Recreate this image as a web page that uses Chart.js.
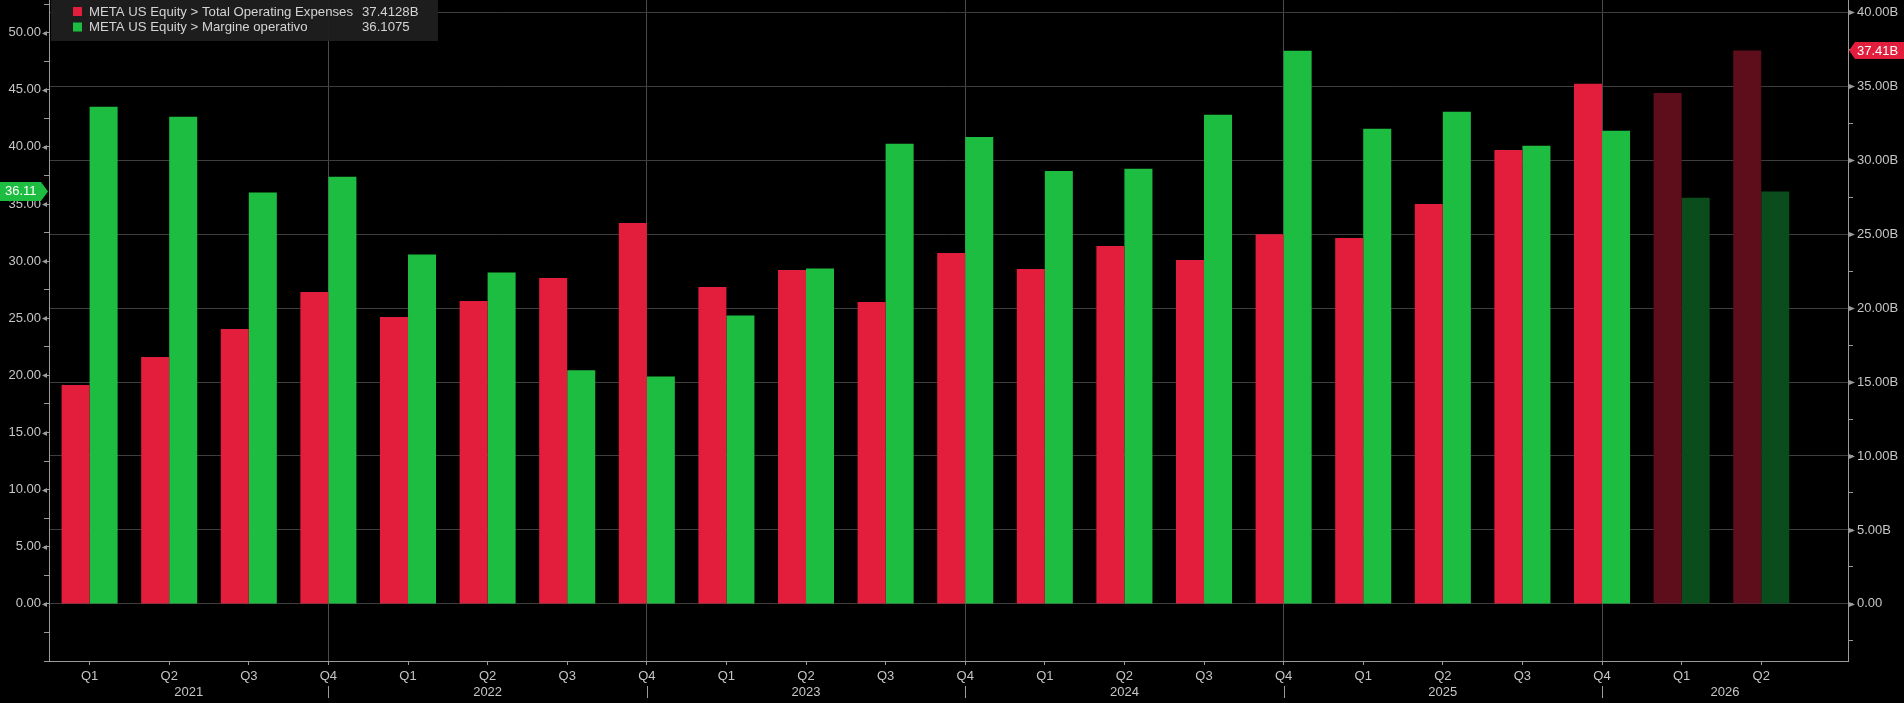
<!DOCTYPE html>
<html>
<head>
<meta charset="utf-8">
<title>META opex vs operating margin</title>
<script src="https://cdn.jsdelivr.net/npm/chart.js@4.4.1/dist/chart.umd.min.js"></script>
<style>
    html, body { margin: 0; padding: 0; background: #000; }
    #wrap { width: 1904px; height: 703px; position: relative; }
</style>
</head>
<body>
<div id="wrap"><canvas id="myChart"></canvas></div>
<script>
// =====================
// Data
// =====================
const quarters = ['Q1', 'Q2', 'Q3', 'Q4', 'Q1', 'Q2', 'Q3', 'Q4', 'Q1', 'Q2', 'Q3', 'Q4',
                  'Q1', 'Q2', 'Q3', 'Q4', 'Q1', 'Q2', 'Q3', 'Q4', 'Q1', 'Q2'];
const years = ['2021', '2022', '2023', '2024', '2025', '2026'];

// Total Operating Expenses, billions (right axis)
const opexB = [14.80, 16.69, 18.59, 21.09, 19.40, 20.48, 22.04, 25.76, 21.43, 22.58, 20.41, 23.72,
               22.64, 24.20, 23.25, 25.00, 24.74, 27.04, 30.69, 35.16, 34.55, 37.4128];
// Margine operativo, % (left axis)
const opMargin = [43.51, 42.64, 36.00, 37.38, 30.58, 29.00, 20.44, 19.91, 25.24, 29.35, 40.28, 40.87,
                  37.90, 38.08, 42.81, 48.41, 41.59, 43.08, 40.10, 41.41, 35.56, 36.1075];
// quarters from this index on are estimates (drawn darker)
const firstEstimate = 20;

const RED = '#e31e3d';
const RED_DARK = '#5e0d1b';
const GREEN = '#1dbd41';
const GREEN_DARK = '#0b4c1c';
const TEXT = '#c6c6c6';
const AXIS = '#9a9a9a';
const GRID = '#3e3e3e';
const FONT = '"Liberation Sans", Arial, sans-serif';

Chart.defaults.font.family = FONT;
Chart.defaults.font.size = 13;
Chart.defaults.color = TEXT;

// =====================
// Overlay: legend box, year row, value tags, tick arrows
// =====================
const overlayPlugin = {
    id: 'overlay',
    afterDraw(chart) {
        const ctx = chart.ctx;
        const area = chart.chartArea;
        const x = chart.scales.x;
        const yL = chart.scales.y;
        const yR = chart.scales.y1;
        ctx.save();

        // arrow heads on labelled ticks
        ctx.fillStyle = AXIS;
        yL.ticks.forEach(t => {
            if (t.value < 0 || t.value % 5 !== 0) return;
            const py = Math.round(yL.getPixelForValue(t.value)) + 0.5;
            ctx.beginPath();
            ctx.moveTo(area.left - 7, py);
            ctx.lineTo(area.left - 2, py - 2.5);
            ctx.lineTo(area.left - 2, py + 2.5);
            ctx.fill();
        });
        yR.ticks.forEach(t => {
            if (t.value < 0 || t.value % 5 !== 0) return;
            const py = Math.round(yR.getPixelForValue(t.value)) + 0.5;
            ctx.beginPath();
            ctx.moveTo(area.right + 7, py);
            ctx.lineTo(area.right + 1, py - 2.5);
            ctx.lineTo(area.right + 1, py + 2.5);
            ctx.fill();
        });

        // year labels centred on each year's span, separators under Q4
        ctx.font = '13px ' + FONT;
        ctx.fillStyle = TEXT;
        ctx.textAlign = 'center';
        ctx.textBaseline = 'middle';
        years.forEach((yr, k) => {
            const start = k === 0 ? area.left : x.getPixelForValue(4 * k - 1);
            const endIdx = 4 * k + 3;
            const end = endIdx < quarters.length ? x.getPixelForValue(endIdx) : area.right;
            ctx.fillText(yr, (start + end) / 2, 692);
        });
        ctx.strokeStyle = AXIS;
        ctx.lineWidth = 1;
        quarters.forEach((q, i) => {
            if (q !== 'Q4') return;
            const px = Math.round(x.getPixelForValue(i)) + 0.5;
            ctx.beginPath();
            ctx.moveTo(px, 686);
            ctx.lineTo(px, 698);
            ctx.stroke();
        });

        // last value tags
        const lastI = quarters.length - 1;
        const gy = yL.getPixelForValue(opMargin[lastI]);
        ctx.fillStyle = GREEN;
        ctx.beginPath();
        ctx.moveTo(0, gy - 9.5);
        ctx.lineTo(41, gy - 9.5);
        ctx.lineTo(48, gy);
        ctx.lineTo(41, gy + 9.5);
        ctx.lineTo(0, gy + 9.5);
        ctx.fill();
        ctx.fillStyle = '#ffffff';
        ctx.textAlign = 'left';
        ctx.fillText(opMargin[lastI].toFixed(2), 5, gy + 0.5);

        const ry = yR.getPixelForValue(opexB[lastI]);
        ctx.fillStyle = RED;
        ctx.beginPath();
        ctx.moveTo(area.right + 1, ry);
        ctx.lineTo(area.right + 7, ry - 8.5);
        ctx.lineTo(1904, ry - 8.5);
        ctx.lineTo(1904, ry + 8.5);
        ctx.lineTo(area.right + 7, ry + 8.5);
        ctx.fill();
        ctx.fillStyle = '#ffffff';
        ctx.fillText(opexB[lastI].toFixed(2) + 'B', area.right + 9, ry + 0.5);

        // legend box
        ctx.fillStyle = 'rgba(30, 30, 30, 0.96)';
        ctx.fillRect(51, 0, 387, 41);
        ctx.font = '13.2px ' + FONT;
        const rows = [
            { color: RED, name: 'META US Equity > Total Operating Expenses', val: opexB[lastI].toFixed(4) + 'B', y: 11.5 },
            { color: GREEN, name: 'META US Equity > Margine operativo', val: opMargin[lastI].toFixed(4), y: 27 }
        ];
        rows.forEach(r => {
            ctx.fillStyle = r.color;
            ctx.fillRect(73, r.y - 4.5, 9, 9);
            ctx.fillStyle = '#d4d4d4';
            ctx.fillText(r.name, 89, r.y + 0.5);
            ctx.fillText(r.val, 362, r.y + 0.5);
        });

        ctx.restore();
    }
};

// =====================
// Chart
// =====================
function barColors(bright, dark) {
    return quarters.map((q, i) => i >= firstEstimate ? dark : bright);
}

function generateChart() {
    const ctx = document.getElementById('myChart').getContext('2d');
    return new Chart(ctx, {
        type: 'bar',
        data: {
            datasets: [
                {
                    label: 'META US Equity > Total Operating Expenses',
                    data: opexB.map((v, i) => ({ x: i, y: v })),
                    backgroundColor: barColors(RED, RED_DARK),
                    yAxisID: 'y1',
                    stack: 'opex'
                },
                {
                    label: 'META US Equity > Margine operativo',
                    data: opMargin.map((v, i) => ({ x: i, y: v })),
                    backgroundColor: barColors(GREEN, GREEN_DARK),
                    yAxisID: 'y',
                    stack: 'margin'
                }
            ]
        },
        options: {
            responsive: true,
            maintainAspectRatio: false,
            animation: false,
            layout: { padding: 0 },
            categoryPercentage: 0.704,
            barPercentage: 1.0,
            plugins: {
                legend: { display: false },
                tooltip: { enabled: false }
            },
            scales: {
                x: {
                    type: 'linear',
                    position: 'bottom',
                    offset: false,
                    min: -0.51,
                    max: 22.09,
                    afterBuildTicks: scale => {
                        scale.ticks = quarters.map((q, i) => ({ value: i }));
                    },
                    afterFit: scale => {
                        scale.height = 42;
                        scale.paddingLeft = 0;
                        scale.paddingRight = 0;
                    },
                    ticks: {
                        autoSkip: false,
                        maxRotation: 0,
                        padding: 4,
                        color: TEXT,
                        callback: v => quarters[v]
                    },
                    grid: {
                        offset: false,
                        tickLength: 4,
                        tickColor: AXIS,
                        color: c => (c.tick && quarters[c.tick.value] === 'Q4') ? '#4a4a4a' : 'rgba(0,0,0,0)'
                    },
                    border: { color: AXIS }
                },
                y: {
                    position: 'left',
                    min: -5,
                    max: 52.86,
                    afterFit: scale => {
                        scale.width = 49;
                        scale.paddingTop = 0;
                        scale.paddingBottom = 0;
                    },
                    ticks: {
                        stepSize: 2.5,
                        includeBounds: false,
                        padding: 3,
                        color: TEXT,
                        callback: v => (v >= 0 && v % 5 === 0) ? v.toFixed(2) : ''
                    },
                    grid: {
                        drawOnChartArea: false,
                        tickLength: 5,
                        tickColor: AXIS
                    },
                    border: { color: AXIS }
                },
                y1: {
                    position: 'right',
                    min: -3.86,
                    max: 40.83,
                    afterFit: scale => {
                        scale.width = 56;
                        scale.paddingTop = 0;
                        scale.paddingBottom = 0;
                    },
                    ticks: {
                        stepSize: 2.5,
                        includeBounds: false,
                        padding: 4,
                        color: TEXT,
                        callback: v => {
                            if (v === 0) return '0.00';
                            return (v > 0 && v % 5 === 0) ? v.toFixed(2) + 'B' : '';
                        }
                    },
                    grid: {
                        tickLength: 5,
                        tickColor: AXIS,
                        color: c => (c.tick && c.tick.value >= 0 && c.tick.value % 5 === 0) ? GRID : 'rgba(0,0,0,0)'
                    },
                    border: { color: AXIS }
                }
            }
        },
        plugins: [overlayPlugin]
    });
}

window.onload = generateChart;
</script>
</body>
</html>
